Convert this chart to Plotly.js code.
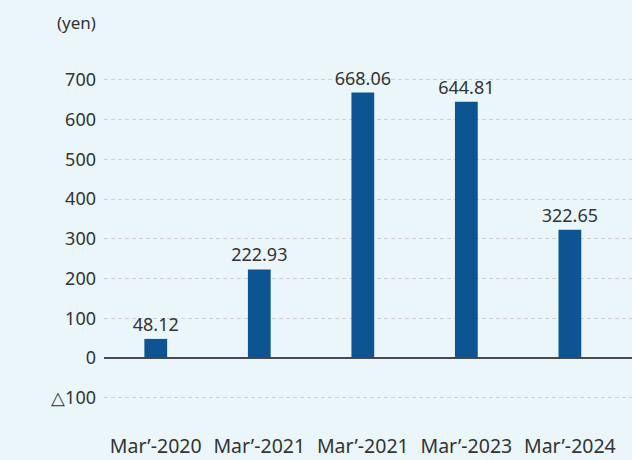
<!DOCTYPE html>
<html>
<head>
<meta charset="utf-8">
<script src="https://cdn.plot.ly/plotly-3.0.1.min.js"></script>
<style>
  html, body { margin: 0; padding: 0; background: #ebf6fb; }
  #chart { width: 632px; height: 460px; }
</style>
</head>
<body>
<div id="chart"></div>
<script>
const categories = ['Mar’-2020', 'Mar’-2021', 'Mar’-2021', 'Mar’-2023', 'Mar’-2024'];
const values = [48.12, 222.93, 668.06, 644.81, 322.65];
const yTickVals = [-100, 0, 100, 200, 300, 400, 500, 600, 700];
const yTickText = ['△100', '0', '100', '200', '300', '400', '500', '600', '700'];

// same label twice in the source, so bars sit on index positions
const positions = categories.map((c, i) => i);

const data = [{
  type: 'bar',
  x: positions,
  y: values,
  width: 0.22,
  marker: { color: '#0c5592' },
  text: values.map((v) => v.toFixed(2)),
  textposition: 'outside',
  constraintext: 'none',
  textfont: { family: 'Noto Sans, sans-serif', size: 18, color: '#333333' },
  cliponaxis: false,
  hoverinfo: 'none',
}];

const layout = {
  width: 632,
  height: 460,
  margin: { l: 104, r: 0, t: 60, b: 36 },
  paper_bgcolor: '#ebf6fb',
  plot_bgcolor: '#ebf6fb',
  showlegend: false,
  font: { family: 'Noto Sans, sans-serif', size: 18, color: '#333333' },
  xaxis: {
    range: [-0.5, 4.6],
    tickvals: positions,
    ticktext: categories,
    tickfont: { size: 19.5, color: '#333333' },
    showgrid: false,
    zeroline: false,
    showline: false,
    ticks: '',
    ticklabelstandoff: 8,
  },
  yaxis: {
    range: [-166, 750],
    tickvals: yTickVals,
    ticktext: yTickText,
    tickfont: { size: 18, color: '#333333' },
    showgrid: true,
    gridcolor: '#cfcfcf',
    griddash: '4px,3px',
    gridwidth: 1,
    zeroline: true,
    zerolinecolor: '#4a4a4a',
    zerolinewidth: 1.5,
    showline: false,
    ticks: '',
    ticklabelstandoff: 7,
  },
  annotations: [{
    text: '(yen)',
    xref: 'paper',
    yref: 'paper',
    x: -0.053,
    y: 1.104,
    xanchor: 'center',
    yanchor: 'middle',
    showarrow: false,
    font: { size: 17, color: '#333333' },
  }],
};

Plotly.newPlot('chart', data, layout, { staticPlot: true });
</script>
</body>
</html>
